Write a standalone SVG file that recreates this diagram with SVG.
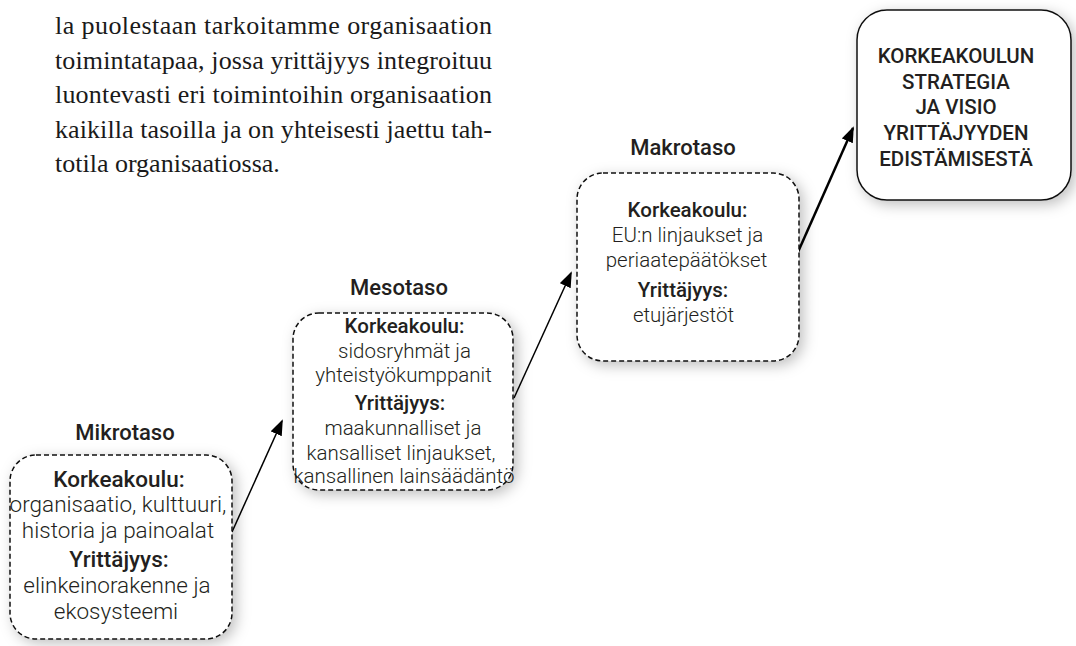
<svg xmlns="http://www.w3.org/2000/svg" width="1076" height="646" viewBox="0 0 1076 646">
<style>
.para{font-family:"Liberation Serif",serif;font-size:26px;fill:#1a1a1a}
.lbl{font-family:Roboto,"Liberation Sans",sans-serif;font-size:22px;font-weight:500;fill:#231f20;text-anchor:middle}
.t{font-family:Roboto,"Liberation Sans",sans-serif;font-size:20.5px;font-weight:300;fill:#231f20;text-anchor:middle}
.t.big{font-size:22.5px}
.t.b{font-weight:500}
.st{font-family:Roboto,"Liberation Sans",sans-serif;font-size:20.5px;font-weight:500;fill:#231f20;text-anchor:middle}
.box{fill:#fff;stroke:#111;stroke-width:1.5;stroke-dasharray:5 3;filter:url(#sh)}
.sbox{fill:#fff;stroke:#111;stroke-width:1.5;filter:url(#sh)}
.con{stroke:#000;fill:none}
</style>
<defs>
<filter id="sh" x="-20%" y="-20%" width="140%" height="140%">
<feDropShadow dx="4" dy="4" stdDeviation="7" flood-color="#000" flood-opacity="0.25"/>
</filter>
<marker id="ah" markerUnits="userSpaceOnUse" markerWidth="16" markerHeight="12" refX="14" refY="6" orient="auto">
<path d="M0,0 L16,6 L0,12 z" fill="#000"/>
</marker>
</defs>
<rect width="1076" height="646" fill="#fff"/>
<g id="paragraph">
<text class="para" x="55" y="34" textLength="437" lengthAdjust="spacing">la puolestaan tarkoitamme organisaation</text>
<text class="para" x="55" y="68.5" textLength="437" lengthAdjust="spacing">toimintatapaa, jossa yrittäjyys integroituu</text>
<text class="para" x="55" y="103" textLength="437" lengthAdjust="spacing">luontevasti eri toimintoihin organisaation</text>
<text class="para" x="55" y="137.5" textLength="437" lengthAdjust="spacing">kaikilla tasoilla ja on yhteisesti jaettu tah-</text>
<text class="para" x="55" y="172">totila organisaatiossa.</text>
</g>
<g id="connectors">
<line class="con" x1="232" y1="532" x2="282" y2="421" stroke-width="1.5" marker-end="url(#ah)"/>
<line class="con" x1="514" y1="398" x2="571" y2="273" stroke-width="1.5" marker-end="url(#ah)"/>
<line class="con" x1="798" y1="252" x2="853" y2="128" stroke-width="2.5" marker-end="url(#ah)"/>
</g>
<g id="mikro">
<text class="lbl" x="125" y="440">Mikrotaso</text>
<rect class="box" x="10" y="455" width="222" height="184" rx="26"/>
<text class="t big b" x="119" y="487">Korkeakoulu:</text>
<text class="t big" x="118" y="512">organisaatio, kulttuuri,</text>
<text class="t big" x="118" y="538">historia ja painoalat</text>
<text class="t big b" x="119" y="567">Yrittäjyys:</text>
<text class="t big" x="117" y="593">elinkeinorakenne ja</text>
<text class="t big" x="116" y="619">ekosysteemi</text>
</g>
<g id="meso">
<text class="lbl" x="399" y="295">Mesotaso</text>
<rect class="box" x="293" y="313" width="220" height="177" rx="26"/>
<text class="t b" x="404.5" y="333">Korkeakoulu:</text>
<text class="t" x="404.5" y="358">sidosryhmät ja</text>
<text class="t" x="403.5" y="382">yhteistyökumppanit</text>
<text class="t b" x="400" y="410">Yrittäjyys:</text>
<text class="t" x="403" y="435">maakunnalliset ja</text>
<text class="t" x="401" y="460">kansalliset linjaukset,</text>
<text class="t" x="404" y="483">kansallinen lainsäädäntö</text>
</g>
<g id="makro">
<text class="lbl" x="683" y="155">Makrotaso</text>
<rect class="box" x="577" y="173" width="222" height="188" rx="26"/>
<text class="t b" x="687.5" y="217">Korkeakoulu:</text>
<text class="t" x="687.5" y="242">EU:n linjaukset ja</text>
<text class="t" x="686.5" y="267">periaatepäätökset</text>
<text class="t b" x="683" y="297">Yrittäjyys:</text>
<text class="t" x="683.5" y="322">etujärjestöt</text>
</g>
<g id="strategia">
<rect class="sbox" x="857" y="10" width="214" height="190" rx="30"/>
<text class="st" x="956" y="63">KORKEAKOULUN</text>
<text class="st" x="956" y="89">STRATEGIA</text>
<text class="st" x="956" y="114">JA VISIO</text>
<text class="st" x="956" y="140">YRITTÄJYYDEN</text>
<text class="st" x="956" y="166">EDISTÄMISESTÄ</text>
</g>
</svg>
